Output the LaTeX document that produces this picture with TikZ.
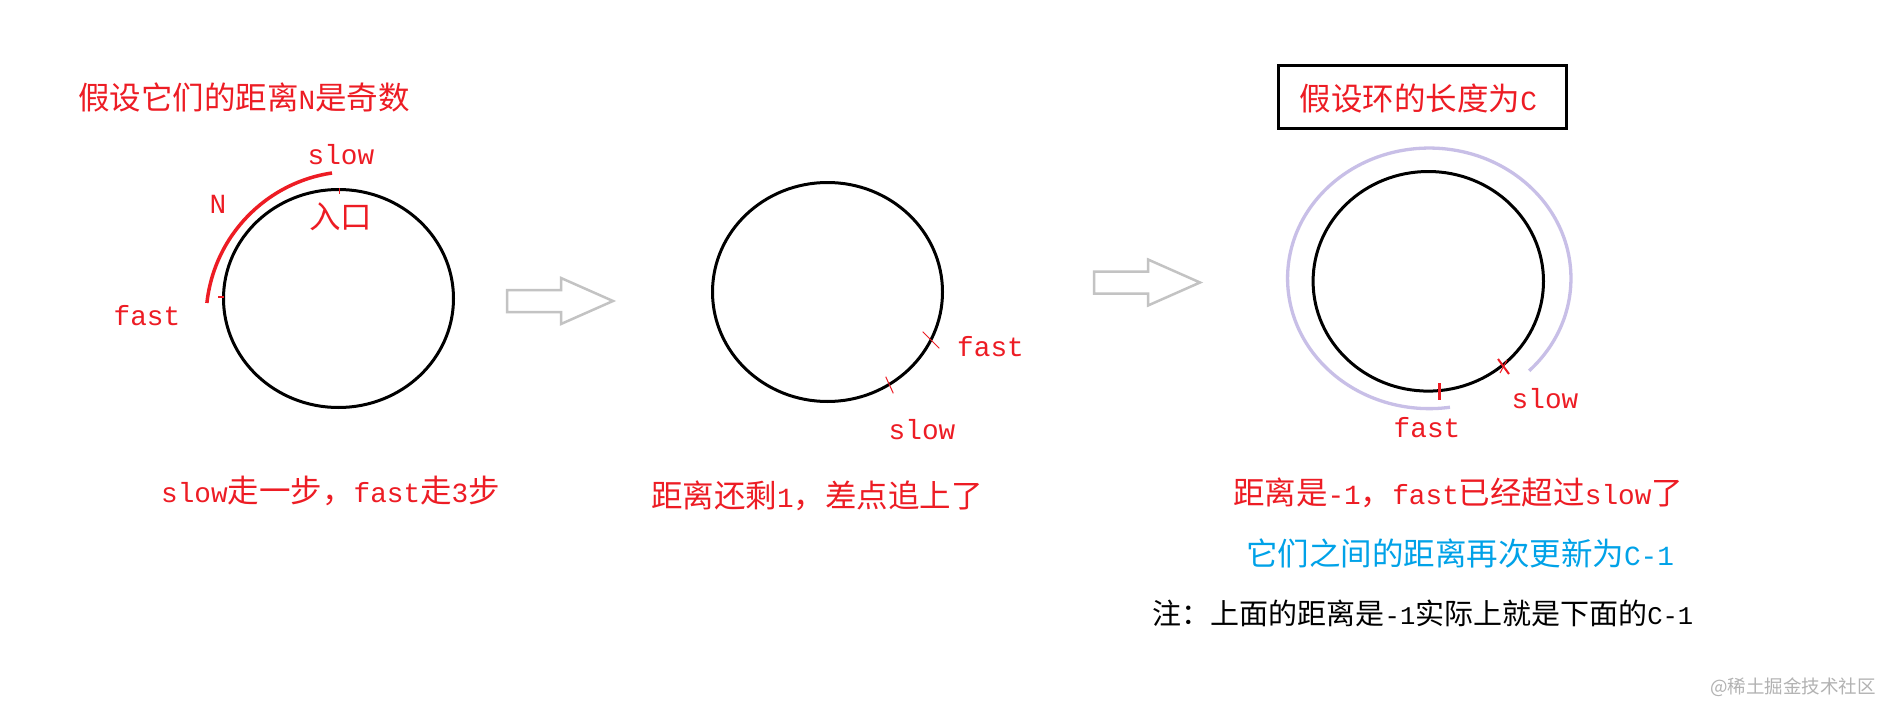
\documentclass[tikz,border=0pt]{standalone}
\usepackage{fontspec}
\setmainfont{Noto Sans CJK SC}
\newfontfamily\latinmono{Liberation Mono}[Scale=0.88]
\newcommand{\latn}[1]{{\latinmono #1}}
\definecolor{inkred}{RGB}{237,28,36}
\definecolor{inkblue}{RGB}{0,162,232}
\definecolor{ringlav}{RGB}{200,191,231}
\definecolor{arrowgray}{RGB}{195,195,195}
\definecolor{markgray}{RGB}{178,178,178}
\tikzset{
  redtxt/.style={inner sep=0pt,text=inkred,font=\fontsize{31.5}{31.5}\selectfont},
  ring/.style={line width=3pt},
  redmark/.style={draw=inkred,line width=1pt,line cap=butt},
  blockarrow/.style={draw=arrowgray,line width=2.5pt,line join=miter},
}

\begin{document}
\begin{tikzpicture}[line cap=round,line join=round,x=1.0pt,y=-1.0pt]
\useasboundingbox[fill=white] (0,0) rectangle (1880,704);
\draw (244,97.5) node[redtxt] (title1) {假设它们的距离\latn{N}是奇数};
\draw[ring] (338.5,298.5) ellipse [x radius=115,y radius=109];
\draw[inkred,line width=3.5pt,line cap=butt] (332,173) arc [start angle=-98.4,end angle=-173.8,radius=147.5];
\draw[redmark] (339,188) -- (339,194);
\draw[redmark,line width=1.5pt] (218,297) -- (224,297);
\draw (341,155) node[redtxt] (slow1) {\latn{slow}};
\draw (218,204) node[redtxt] (n1) {\latn{N}};
\draw (340.5,216.5) node[redtxt] (entry1) {入口};
\draw (147,316) node[redtxt] (fast1) {\latn{fast}};
\draw (330.5,491) node[redtxt] (step1) {\latn{slow}走一步，\latn{fast}走\latn{3}步};
\foreach \ax/\ay in {507/301,1094/282.5}
  \draw[blockarrow] (\ax,\ay) ++(0,-11) -- ++(54,0) -- ++(0,-12) -- ++(52,23) -- ++(-52,23) -- ++(0,-12) -- ++(-54,0) -- cycle;
\draw[ring] (827.5,292) ellipse [x radius=115,y radius=109.5];
\draw[redmark] (922.7,331.7) -- (939.3,348.3);
\draw[redmark] (885.7,376.7) -- (893.3,393.3);
\draw (990.5,347) node[redtxt] (fast2) {\latn{fast}};
\draw (922,430) node[redtxt] (slow2) {\latn{slow}};
\draw (817,496) node[redtxt] (step2) {距离还剩\latn{1}，差点追上了};
\draw[line width=3.3pt,line join=miter] (1278.5,65.5) rectangle (1566.5,128.5);
\draw (1418.5,98) node[redtxt] (lenc) {假设环的长度为\latn{C}};
\draw[ring] (1428.3,281.3) ellipse [x radius=115.2,y radius=109.8];
\draw[ringlav,line width=3.3pt,line cap=butt] (1529.1,370.8) arc [start angle=45.2,end angle=-278.4,x radius=141.7,y radius=130.3];
\draw[redmark,line width=3pt] (1439.3,383) -- (1439.3,400);
\draw[redmark,line width=2pt] (1498,359) -- (1509,374);
\draw[redmark] (1500,373) -- (1507,360);
\draw (1545,399) node[redtxt] (slow3) {\latn{slow}};
\draw (1427,427.5) node[redtxt] (fast3) {\latn{fast}};
\draw (1458,493) node[redtxt] (step3) {距离是\latn{-1}，\latn{fast}已经超过\latn{slow}了};
\draw (1460,553) node[redtxt,text=inkblue] (update3) {它们之间的距离再次更新为\latn{C-1}};
\draw (1423,613) node[inner sep=0pt,font=\fontsize{29}{29}\selectfont] (note3) {注：上面的距离是\latn{-1}实际上就是下面的\latn{C-1}};
\draw (1793,687) node[inner sep=0pt,text=markgray,font=\fontsize{18.5}{18.5}\selectfont] (mark) {@稀土掘金技术社区};
\end{tikzpicture}
\end{document}
